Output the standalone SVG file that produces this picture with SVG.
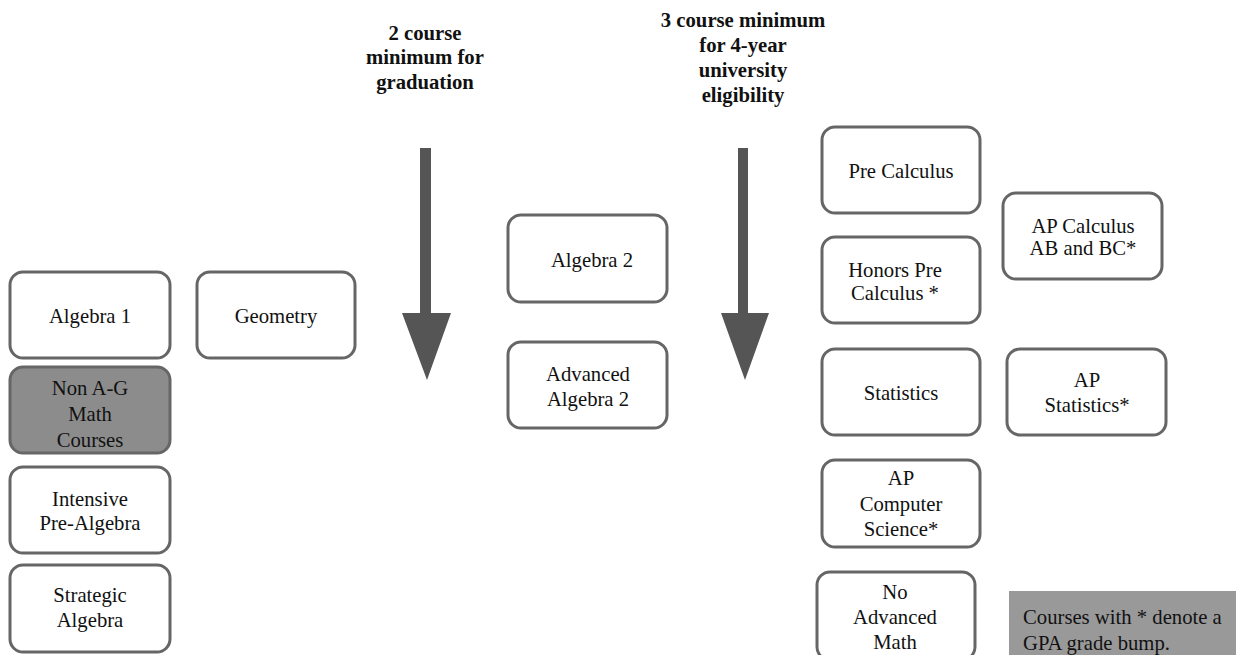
<svg xmlns="http://www.w3.org/2000/svg" width="1236" height="655" viewBox="0 0 1236 655">
<style>
.box{fill:#fff;stroke:#666;stroke-width:3}
.dark{fill:#8c8c8c}
.t{font-family:"Liberation Serif","Times New Roman",serif;font-size:20.7px;fill:#111;text-anchor:middle}
.h{font-family:"Liberation Serif","Times New Roman",serif;font-size:20.7px;font-weight:bold;fill:#111;text-anchor:middle}
.arrow{fill:#555}
</style>
<rect width="1236" height="655" fill="#fff"/>
<g id="header-left">
<text class="h" x="425" y="40">2 course</text>
<text class="h" x="425" y="64">minimum for</text>
<text class="h" x="425" y="89">graduation</text>
</g>
<g id="header-right">
<text class="h" x="743" y="27">3 course minimum</text>
<text class="h" x="743" y="52">for 4-year</text>
<text class="h" x="743" y="77">university</text>
<text class="h" x="743" y="102">eligibility</text>
</g>
<g id="connectors">
<path class="arrow" d="M420,148 H431 V313 H451 L427,380 L402,313 H420 Z"/>
<path class="arrow" d="M738,148 H748 V313 H769 L745,380 L721,313 H738 Z"/>
</g>
<g id="algebra1"><rect class="box" x="10" y="272" width="160" height="86" rx="13"/><text class="t" x="90" y="323">Algebra 1</text></g>
<g id="nonag"><rect class="box dark" x="10" y="367" width="160" height="86" rx="13"/><text class="t" x="90" y="395">Non A-G</text><text class="t" x="90" y="421">Math</text><text class="t" x="90" y="447">Courses</text></g>
<g id="intensive"><rect class="box" x="10" y="467" width="160" height="86" rx="13"/><text class="t" x="90" y="506">Intensive</text><text class="t" x="90" y="530">Pre-Algebra</text></g>
<g id="strategic"><rect class="box" x="10" y="565" width="160" height="87" rx="13"/><text class="t" x="90" y="602">Strategic</text><text class="t" x="90" y="627">Algebra</text></g>
<g id="geometry"><rect class="box" x="197" y="272" width="158" height="86" rx="13"/><text class="t" x="276" y="323">Geometry</text></g>
<g id="algebra2"><rect class="box" x="508" y="215" width="159" height="87" rx="13"/><text class="t" x="592" y="267">Algebra 2</text></g>
<g id="advalgebra2"><rect class="box" x="508" y="342" width="159" height="86" rx="13"/><text class="t" x="588" y="381">Advanced</text><text class="t" x="588" y="406">Algebra 2</text></g>
<g id="precalc"><rect class="box" x="822" y="127" width="158" height="86" rx="13"/><text class="t" x="901" y="178">Pre Calculus</text></g>
<g id="honorsprecalc"><rect class="box" x="822" y="237" width="158" height="86" rx="13"/><text class="t" x="895" y="277">Honors Pre</text><text class="t" x="895" y="300">Calculus *</text></g>
<g id="statistics"><rect class="box" x="822" y="349" width="158" height="86" rx="13"/><text class="t" x="901" y="400">Statistics</text></g>
<g id="apcs"><rect class="box" x="822" y="460" width="158" height="87" rx="13"/><text class="t" x="901" y="485">AP</text><text class="t" x="901" y="511">Computer</text><text class="t" x="901" y="536">Science*</text></g>
<g id="noadvanced"><rect class="box" x="817" y="572" width="158" height="88" rx="13"/><text class="t" x="895" y="599">No</text><text class="t" x="895" y="624">Advanced</text><text class="t" x="895" y="649">Math</text></g>
<g id="apcalc"><rect class="box" x="1003" y="193" width="159" height="86" rx="13"/><text class="t" x="1083" y="233">AP Calculus</text><text class="t" x="1083" y="255">AB and BC*</text></g>
<g id="apstats"><rect class="box" x="1007" y="349" width="159" height="86" rx="13"/><text class="t" x="1087" y="387">AP</text><text class="t" x="1087" y="412">Statistics*</text></g>
<g id="note"><rect x="1009" y="591" width="227" height="64" fill="#999"/><text class="t" x="1023" y="624" style="text-anchor:start">Courses with * denote a</text><text class="t" x="1023" y="650" style="text-anchor:start">GPA grade bump.</text></g>
</svg>
